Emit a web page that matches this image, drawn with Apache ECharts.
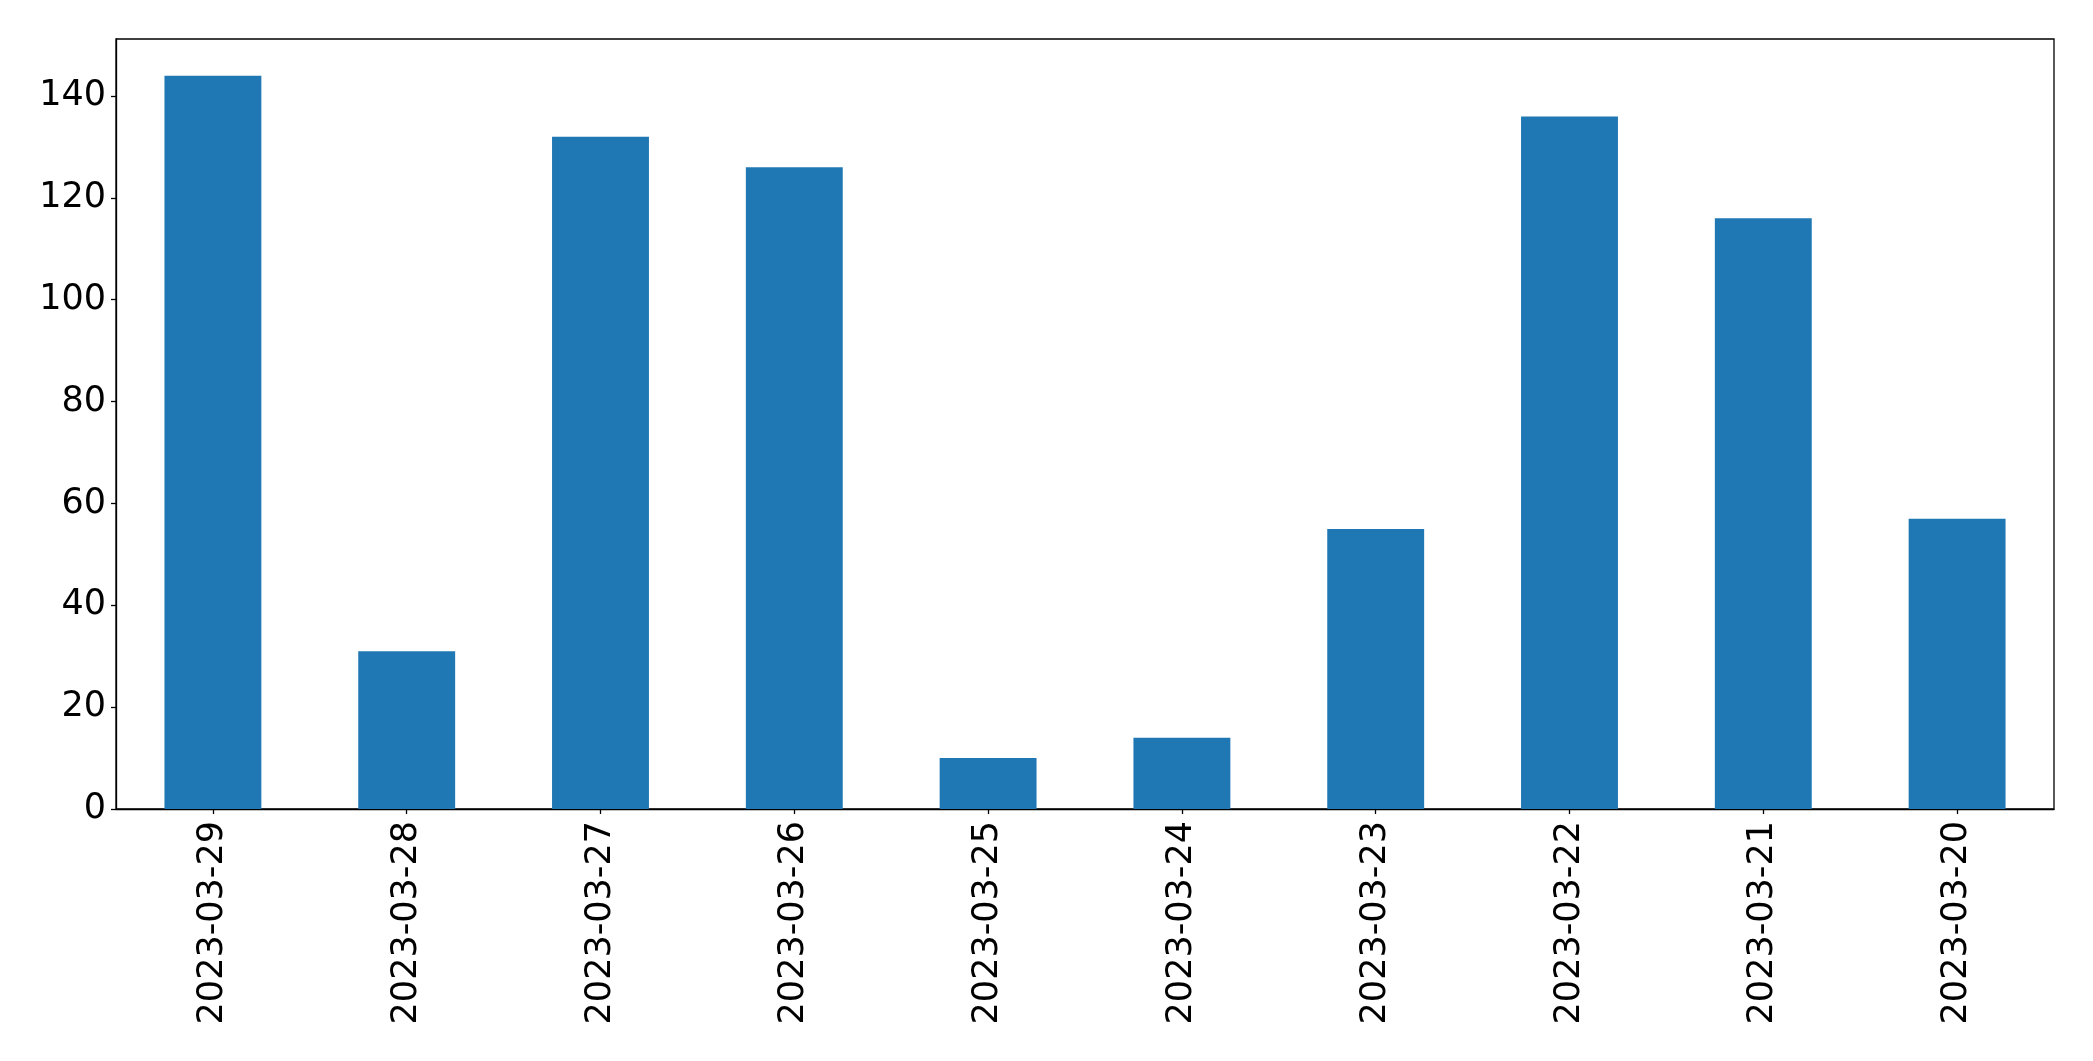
<!DOCTYPE html>
<html>
<head>
<meta charset="utf-8">
<script src="https://cdn.jsdelivr.net/npm/echarts@6/dist/echarts.min.js"></script>
<style>html,body{margin:0;padding:0;background:#fff}#c{width:2093px;height:1061px}</style>
</head>
<body>
<div id="c"></div>
<script>
const categories = ['2023-03-29','2023-03-28','2023-03-27','2023-03-26','2023-03-25','2023-03-24','2023-03-23','2023-03-22','2023-03-21','2023-03-20'];
const values = [144, 31, 132, 126, 10, 14, 55, 136, 116, 57];
const yTicks = [0, 20, 40, 60, 80, 100, 120, 140];

const chart = echarts.init(document.getElementById('c'), null, {renderer: 'canvas'});
const font = 'DejaVu Sans';
chart.setOption({
  animation: false,
  backgroundColor: '#fff',
  grid: {left: 116, right: 39, top: 39, bottom: 252, show: true, borderColor: '#000', borderWidth: 1.3, containLabel: false},
  xAxis: {
    type: 'category',
    data: categories,
    boundaryGap: true,
    axisLine: {show: true, lineStyle: {color: '#000', width: 1.3}},
    axisTick: {show: true, alignWithLabel: true, length: 5, lineStyle: {color: '#000', width: 1.3}},
    axisLabel: {rotate: 90, margin: 12, fontFamily: font, fontSize: 35, color: '#000'},
    splitLine: {show: false}
  },
  yAxis: {
    type: 'value',
    min: 0,
    max: 151.2,
    interval: 20,
    axisLine: {show: true, lineStyle: {color: '#000', width: 1.3}},
    axisTick: {show: true, length: 5, lineStyle: {color: '#000', width: 1.3}, customValues: yTicks},
    axisLabel: {margin: 10, fontFamily: font, fontSize: 35, color: '#000', customValues: yTicks},
    splitLine: {show: false}
  },
  series: [{
    type: 'bar',
    data: values,
    barWidth: '50%',
    itemStyle: {color: '#1f77b4'}
  }]
});
</script>
</body>
</html>
